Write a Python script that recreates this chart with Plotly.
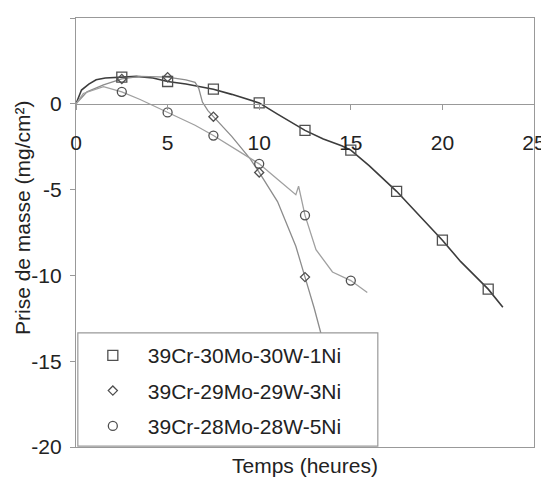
import plotly.graph_objects as go

# ── Data ─────────────────────────────────────────────────────────────────────
NAMES = ["39Cr-30Mo-30W-1Ni", "39Cr-29Mo-29W-3Ni", "39Cr-28Mo-28W-5Ni"]

# continuous mass-gain curves (hours, mg/cm²)
T1 = [0, 0.3, 0.7, 1.1, 1.6, 2.5, 3.3, 4.2, 5, 6, 7.5, 8.5, 9.3, 10, 11, 12.5,
      13.5, 14.5, 15, 16, 17.5, 19, 20, 21, 22.5, 23.3]
M1 = [0, 0.8, 1.15, 1.4, 1.5, 1.55, 1.6, 1.5, 1.3, 1.15, 0.85, 0.55, 0.3, 0.05,
      -0.6, -1.55, -2.05, -2.45, -2.7, -3.6, -5.1, -6.8, -7.95, -9.2, -10.8, -11.85]

T2 = [0, 0.6, 1.5, 2.5, 3.5, 5, 6.0, 6.5, 6.7, 6.9, 7.2, 7.5, 8.5, 9.5, 10, 11,
      12, 12.5, 13, 13.4]
M2 = [0, 0.7, 1.1, 1.45, 1.6, 1.55, 1.4, 1.25, 0.9, 0.1, -0.4, -0.75, -1.9,
      -3.2, -4.0, -5.7, -8.3, -10.1, -11.9, -13.5]

T3 = [0, 0.4, 1.5, 2.5, 3.5, 5, 6.5, 7.5, 8.5, 10, 11, 12.0, 12.15, 12.35,
      12.5, 13.1, 14, 15, 15.9]
M3 = [0, 0.6, 1.0, 0.7, 0.25, -0.5, -1.25, -1.85, -2.5, -3.5, -4.4, -5.3, -4.8,
      -5.9, -6.5, -8.5, -9.8, -10.3, -11.0]

# marker points (every 2.5 h)
TP1 = [2.5, 5, 7.5, 10, 12.5, 15, 17.5, 20, 22.5]
MP1 = [1.55, 1.3, 0.85, 0.05, -1.55, -2.7, -5.1, -7.95, -10.8]
TP2 = [2.5, 5, 7.5, 10, 12.5]
MP2 = [1.45, 1.55, -0.75, -4.0, -10.1]
TP3 = [2.5, 5, 7.5, 10, 12.5, 15]
MP3 = [0.7, -0.5, -1.85, -3.5, -6.5, -10.3]

X_TICKS = [0, 5, 10, 15, 20, 25]
Y_TICKS = [-20, -15, -10, -5, 0, 5]
Y_TICK_TEXT = ["-20", "-15", "-10", "-5", "0", "5"]

# ── Style ────────────────────────────────────────────────────────────────────
FONT = "Arial, Liberation Sans, sans-serif"
TEXT = "#222222"
AXIS = "#999999"
LINE_COLORS = ["#3c3c3c", "#8c8c8c", "#a0a0a0"]
MARKER_LINE = "#505050"
SYMBOLS = ["square-open", "diamond-open", "circle-open"]
SIZES = [10, 7, 9]

curves = [(T1, M1), (T2, M2), (T3, M3)]
points = [(TP1, MP1), (TP2, MP2), (TP3, MP3)]

fig = go.Figure()

for i, (t, m) in enumerate(curves):
    fig.add_trace(go.Scatter(
        x=t, y=m, mode="lines",
        line=dict(color=LINE_COLORS[i], width=1.6 if i == 0 else 1.3),
        showlegend=False, hoverinfo="skip",
    ))

for i, (t, m) in enumerate(points):
    fig.add_trace(go.Scatter(
        x=t, y=m, mode="markers", name=NAMES[i], legendgroup=str(i),
        marker=dict(symbol=SYMBOLS[i], size=SIZES[i], color=MARKER_LINE,
                    line=dict(color=MARKER_LINE, width=1.3)),
    ))

# empty trace so the frame axis (x2) is actually drawn
fig.add_trace(go.Scatter(x=[], y=[], xaxis="x2", showlegend=False, hoverinfo="skip"))

# page body adds an 8px offset, so the figure is 8px smaller than the window
fig.update_layout(
    width=541, height=474,
    margin=dict(l=68, r=15, t=10, b=35),
    paper_bgcolor="white", plot_bgcolor="white",
    font=dict(family=FONT, color=TEXT, size=21),
    xaxis=dict(
        range=[0, 25], tickvals=X_TICKS, anchor="free", position=0.8,
        showline=True, linecolor=AXIS, linewidth=1.2,
        ticks="outside", ticklen=5, tickcolor=AXIS,
        ticklabelstandoff=15, showgrid=False, zeroline=False,
        tickfont=dict(size=21), automargin=False,
    ),
    # second x axis only draws the top / bottom frame lines
    xaxis2=dict(
        range=[0, 25], overlaying="x", anchor="y", side="bottom",
        showline=True, mirror=True, linecolor=AXIS, linewidth=1.2,
        showticklabels=False, ticks="", showgrid=False, zeroline=False,
        automargin=False,
    ),
    yaxis=dict(
        range=[-20, 5], tickvals=Y_TICKS, ticktext=Y_TICK_TEXT,
        showline=True, mirror=True, linecolor=AXIS, linewidth=1.2,
        ticks="outside", ticklen=5, tickcolor=AXIS, ticklabelstandoff=4,
        showgrid=False, zeroline=False, tickfont=dict(size=21),
        automargin=False,
    ),
    legend=dict(
        x=0.004, y=0.002, xanchor="left", yanchor="bottom",
        bgcolor="rgba(0,0,0,0)", borderwidth=0,
        font=dict(size=21), tracegroupgap=5, itemwidth=60,
    ),
    shapes=[
        # legend box (hides curves behind it)
        dict(type="rect", xref="paper", yref="paper", x0=0.004, x1=0.659,
             y0=0.002, y1=0.266, fillcolor="white",
             line=dict(color=AXIS, width=1.2), layer="above"),
    ],
    annotations=[
        dict(text="Temps (heures)", xref="paper", yref="paper",
             x=0.5, y=-0.044, yanchor="middle", showarrow=False,
             font=dict(size=21)),
        dict(text="Prise de masse (mg/cm²)", xref="paper", yref="paper",
             x=-0.118, y=0.536, textangle=-90, xanchor="center", yanchor="middle",
             showarrow=False, font=dict(size=21)),
    ],
)

fig.write_html("out.html")
